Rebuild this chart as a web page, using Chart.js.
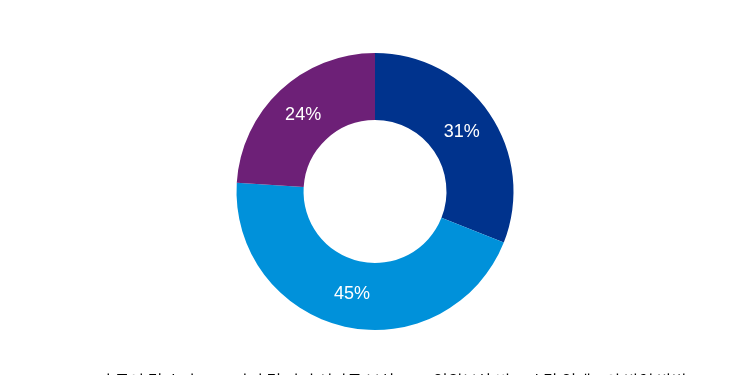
<!DOCTYPE html>
<html>
<head>
<meta charset="utf-8">
<script src="https://cdn.jsdelivr.net/npm/chart.js@4/dist/chart.umd.min.js"></script>
<style>
html,body{margin:0;padding:0;background:#fff;overflow:hidden;}
#wrap{width:750px;height:399px;position:relative;}
</style>
</head>
<body>
<div id="wrap"><canvas id="c"></canvas></div>
<script>
const categories = ["고정 급여 및 수당", "단기 및 장기 성과급 보상", "임원보상 비교시 각 임팩트의 반영 방법"];
const values = [31, 45, 24];
const colors = ["#00338D", "#0091DA", "#6D2077"];

const labelPlugin = {
  id: 'sliceLabels',
  afterDatasetsDraw(chart) {
    const ctx = chart.ctx;
    const meta = chart.getDatasetMeta(0);
    ctx.save();
    ctx.fillStyle = '#ffffff';
    ctx.font = '18px "Liberation Sans", Arial, sans-serif';
    ctx.textAlign = 'center';
    ctx.textBaseline = 'middle';
    meta.data.forEach((arc, i) => {
      const p = arc.tooltipPosition();
      ctx.fillText(values[i] + '%', p.x, p.y);
    });
    ctx.restore();
  }
};

new Chart(document.getElementById('c'), {
  type: 'doughnut',
  data: {
    labels: categories,
    datasets: [{
      data: values,
      backgroundColor: colors,
      borderWidth: 0
    }]
  },
  options: {
    responsive: true,
    maintainAspectRatio: false,
    animation: false,
    radius: 138.5,
    cutout: '51.6%',
    layout: { padding: { top: 30, bottom: 0 } },
    plugins: {
      tooltip: { enabled: false },
      legend: {
        position: 'bottom',
        labels: {
          color: '#000',
          font: { size: 16, family: '"Noto Sans CJK KR", sans-serif' },
          boxWidth: 10,
          boxHeight: 10,
          padding: 20
        }
      }
    }
  },
  plugins: [labelPlugin]
});
</script>
</body>
</html>
